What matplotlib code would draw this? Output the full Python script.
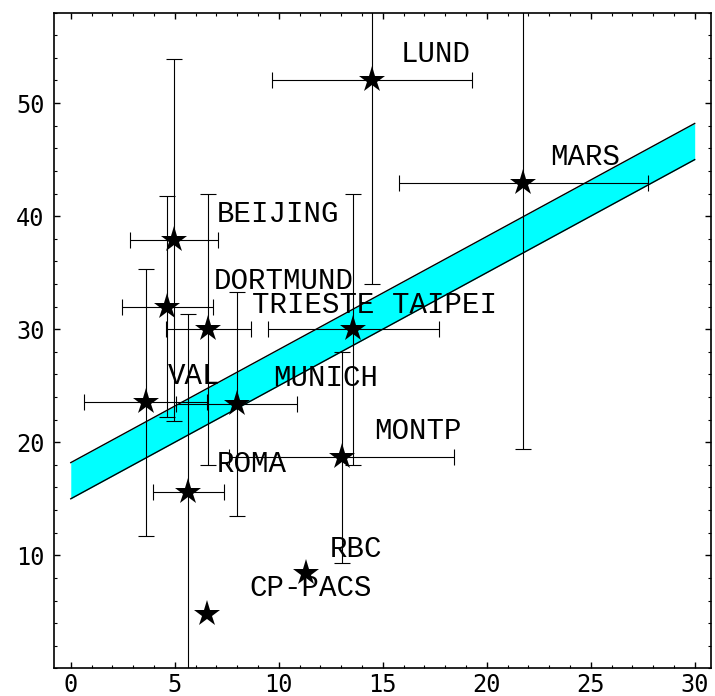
import matplotlib
matplotlib.use("Agg")
import matplotlib.pyplot as plt
from matplotlib.ticker import MultipleLocator

# Star points: centre values and symmetric errors (last two have no bars)
x_vals = [14.47, 21.76, 4.97, 4.64, 6.62, 13.59, 13.03, 3.60, 7.98, 5.65, 11.31, 6.54]
y_vals = [52.0, 42.9, 37.9, 32.0, 30.0, 30.0, 18.66, 23.53, 23.4, 15.62, 8.41, 4.78]
x_errs = [4.8, 6.0, 2.1, 2.2, 2.04, 4.1, 5.4, 2.96, 2.92, 1.72]
y_errs = [18.0, 23.5, 16.0, 9.8, 12.0, 12.0, 9.3, 11.8, 9.9, 15.7]

# Labels and where they sit (left/baseline, data coords)
labels = ["LUND", "MARS", "BEIJING", "DORTMUND", "TRIESTE TAIPEI", "VAL",
          "MUNICH", "MONTP", "ROMA", "RBC", "CP-PACS"]
label_x = [15.87, 23.05, 7.02, 6.89, 8.73, 4.69, 9.71, 14.58, 7.02, 12.47, 8.59]
label_y = [53.64, 44.5, 39.44, 33.52, 31.45, 25.12, 24.97, 20.26, 17.34, 9.88, 6.4]

# Cyan band
band_x = [0, 30]
band_lo = [15.0, 45.0]
band_hi = [18.2, 48.2]

x_ticks = [0, 5, 10, 15, 20, 25, 30]
y_ticks = [10, 20, 30, 40, 50]

fig = plt.figure(figsize=(7.15, 6.96), dpi=100)
ax = fig.add_axes([0.076, 0.0397, 0.918, 0.9421])

ax.fill_between(band_x, band_lo, band_hi, color="#00ffff", linewidth=0, zorder=1)
ax.plot(band_x, band_lo, color="black", linewidth=1.0, zorder=2)
ax.plot(band_x, band_hi, color="black", linewidth=1.0, zorder=2)

n = len(x_errs)
ax.errorbar(x_vals[:n], y_vals[:n], xerr=x_errs, yerr=y_errs, fmt="none",
            ecolor="black", elinewidth=0.8, capsize=6, capthick=0.8, zorder=3)
ax.plot(x_vals, y_vals, linestyle="none", marker="*", markersize=20,
        color="black", markeredgewidth=0, zorder=4)

for lab, lx, ly in zip(labels, label_x, label_y):
    ax.text(lx, ly, lab, family="Liberation Mono", fontsize=21,
            ha="left", va="baseline", zorder=5)

ax.set_xlim(-0.79, 30.77)
ax.set_ylim(0, 58)
ax.set_xticks(x_ticks)
ax.set_yticks(y_ticks)
ax.xaxis.set_minor_locator(MultipleLocator(1))
ax.yaxis.set_minor_locator(MultipleLocator(2))
ax.tick_params(which="both", direction="in", top=True, right=True,
               labeltop=False, labelright=False)
ax.tick_params(which="major", length=4, width=1)
ax.tick_params(which="minor", length=2.5, width=0.8)
ax.tick_params(axis="x", which="major", pad=3)
ax.tick_params(axis="y", which="major", pad=7)
for lab in ax.get_xticklabels() + ax.get_yticklabels():
    lab.set_family("DejaVu Sans Mono")
    lab.set_fontsize(17)
for sp in ax.spines.values():
    sp.set_linewidth(1.2)

fig.savefig("out.png", dpi=100)
